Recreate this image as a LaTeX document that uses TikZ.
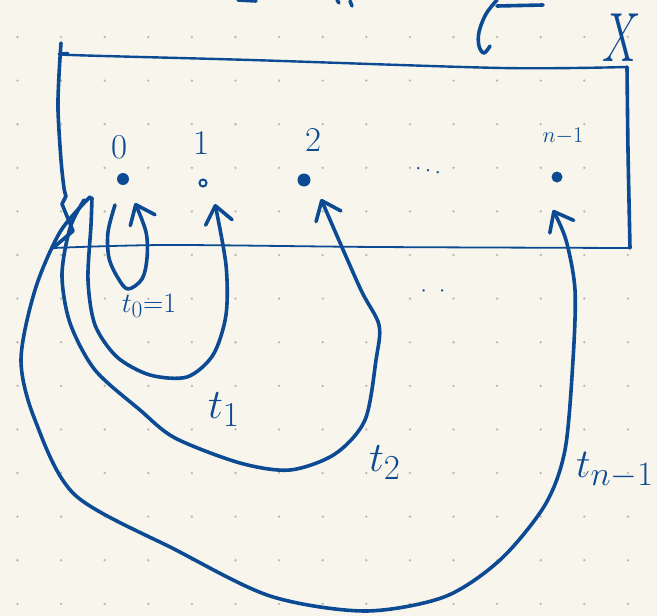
\documentclass[tikz,border=0pt]{standalone}
\usepackage{tikz}
\usetikzlibrary{arrows.meta}

\definecolor{paper}{HTML}{F8F6EC}
\definecolor{ink}{HTML}{0C4A94}
\definecolor{griddot}{HTML}{BAB8AF}

\begin{document}
\begin{tikzpicture}[x=1pt,y=-1pt,
    pen/.style={draw=ink, line width=3.6pt, line cap=round, line join=round},
    thin pen/.style={draw=ink, line width=1.8pt, line cap=round, line join=round},
    loop arrow/.style={pen, -{Straight Barb[length=17pt,width=27pt,round]}},
    dot/.style={circle, fill=ink, inner sep=0pt, minimum width=9pt},
    ring/.style={circle, draw=ink, line width=2pt, inner sep=0pt, minimum width=7pt},
    lbl/.style={text=ink, inner sep=0pt, font=\Huge, transform shape}]

    \useasboundingbox (0,0) rectangle (657,616);
    \fill[paper] (0,0) rectangle (657,616);
    \foreach \i in {0,...,14}
      \foreach \j in {0,...,13}
        \fill[griddot] (17.5+43.6*\i, 37+43.6*\j) circle (1.3);

    % the box X
    \draw[pen] plot[smooth, tension=0.5] coordinates {(61,43) (59,75) (58,110) (61,160) (64,188) (66,196)}
        -- (62,204) -- (73,231) -- (60,242) -- (53,248);
    \draw[thin pen] plot[smooth, tension=0.5] coordinates {(53,248) (167,245) (377,247) (630,248)};
    \draw[pen, line width=2.4pt] plot[smooth, tension=0.5] coordinates {(68,53) (71,55) (251,60) (502,68) (627,67)};
    \draw[pen] plot[smooth, tension=0.5] coordinates {(627,67) (628,150) (630,248)};
    \draw(622,38) node[lbl, scale=2.8, xscale=0.62] (X) {$X$};

    % cut-off writing at the top
    \draw[pen] plot[smooth, tension=0.6] coordinates {(497,0) (486,14) (479,32) (479,46) (484,53) (490,46)};
    \draw[pen] (497,6) -- (543,5);
    \draw[pen] (238,0) -- (256,1);
    \draw[pen] (337,0) -- (339,3);
    \draw[pen] (350,1) -- (352,6);

    % points
    \draw(123,179) node[dot, minimum height=12pt] (P0) {};
    \draw(203,183) node[ring] (P1) {};
    \draw(304,180) node[dot, minimum height=13pt] (P2) {};
    \draw(557,177) node[dot, minimum height=11pt] (Pn) {};

    \draw(119,147) node[lbl, scale=1.4] (L0) {$0$};
    \draw(201,143) node[lbl, scale=1.4] (L1) {$1$};
    \draw(313,140) node[lbl, scale=1.4] (L2) {$2$};
    \draw(563,136) node[lbl, scale=0.9] (Ln) {$n{-}1$};
    \draw(428,171) node[lbl, scale=0.9, rotate=-12] (D1) {$\cdots$};
    \draw(433,292) node[lbl, scale=0.9] (D2) {$\cdot\;\;\cdot$};

    % arrow tips below the points and loop starts
    \coordinate (A0) at (135,203);
    \coordinate (A1) at (215,204);
    \coordinate (A2) at (321,199);
    \coordinate (An) at (553,210);
    \coordinate (S0) at (115,205);
    \coordinate (S1) at (92,198);
    \coordinate (S2) at (84,200);
    \coordinate (Sn) at (90,197);

    \draw[loop arrow] plot[smooth, tension=0.55] coordinates {(S0) (108,232) (109,258) (118,278) (128,289) (142,279) (147,258) (146,232) (A0)};
    \draw[loop arrow] plot[smooth, tension=0.5] coordinates {(S1) (91,225) (88,280) (95,325) (117,357) (150,375) (187,377) (213,355) (226,315) (226,265) (A1)};
    \draw[loop arrow] plot[smooth, tension=0.5] coordinates {(S2) (70,228) (62,275) (70,323) (95,370) (140,410) (175,438) (240,463) (290,470) (335,454) (365,420) (376,360) (379,325) (360,288) (A2)};
    \draw[loop arrow] plot[smooth, tension=0.5] coordinates {(Sn) (60,232) (35,290) (21,360) (35,420) (75,495) (176,550) (270,596) (364,611) (444,597) (500,560) (545,505) (565,450) (573,360) (575,290) (566,240) (An)};

    \draw(149,306) node[lbl, scale=1.13] (T0) {$t_0{=}1$};
    \draw(224,410) node[lbl, scale=1.69] (T1) {$t_1$};
    \draw(385,463) node[lbl, scale=1.69] (T2) {$t_2$};
    \draw(615,470) node[lbl, scale=1.65] (Tn) {$t_{n-1}$};

\end{tikzpicture}
\end{document}
